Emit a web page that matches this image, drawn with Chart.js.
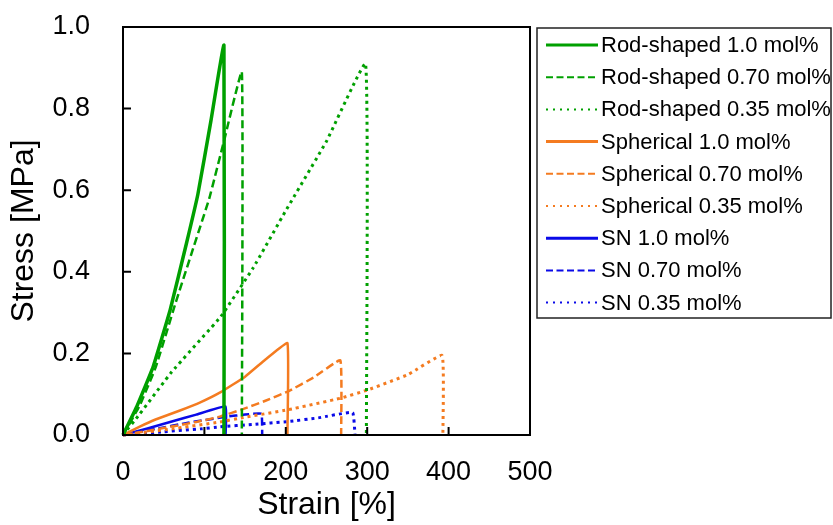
<!DOCTYPE html>
<html>
<head>
<meta charset="utf-8">
<script src="https://cdn.jsdelivr.net/npm/chart.js@4.4.1/dist/chart.umd.min.js"></script>
<style>
  html, body { margin: 0; padding: 0; background: #fff; }
  #wrap { width: 833px; height: 525px; }
</style>
</head>
<body>
<div id="wrap"><canvas id="stressChart"></canvas></div>
<script>
// stress-strain curves, strain in %, stress in MPa
const rod10Strain = [0, 17, 37, 58, 78, 92, 108, 124, 124]
const rod10Stress = [0, 0.07, 0.167, 0.307, 0.47, 0.59, 0.77, 0.955, 0]
const rod07Strain = [0, 20, 40, 64, 85, 106, 124, 146, 146]
const rod07Stress = [0, 0.07, 0.165, 0.32, 0.45, 0.58, 0.72, 0.89, 0]
const rod035Strain = [0, 20, 60, 120, 160, 200, 250, 298, 299]
const rod035Stress = [0, 0.05, 0.155, 0.29, 0.41, 0.55, 0.72, 0.91, 0]

const sph10Strain = [0, 20, 40, 70, 95, 120, 150, 175, 202, 202]
const sph10Stress = [0, 0.02, 0.038, 0.06, 0.08, 0.105, 0.143, 0.185, 0.225, 0]
const sph07Strain = [0, 30, 58, 90, 119, 148, 175, 203, 235, 267, 268]
const sph07Stress = [0, 0.01, 0.02, 0.032, 0.045, 0.064, 0.084, 0.107, 0.142, 0.183, 0]
const sph035Strain = [0, 60, 119, 148, 203, 267, 300, 350, 392, 393]
const sph035Stress = [0, 0.015, 0.032, 0.043, 0.062, 0.09, 0.11, 0.148, 0.195, 0]

const sn10Strain = [0, 30, 60, 90, 126, 126]
const sn10Stress = [0, 0.016, 0.033, 0.05, 0.07, 0]
const sn07Strain = [0, 40, 80, 127, 150, 170, 171]
const sn07Stress = [0, 0.015, 0.03, 0.045, 0.05, 0.052, 0]
const sn035Strain = [0, 50, 95, 119, 160, 203, 240, 282, 285]
const sn035Stress = [0, 0.008, 0.015, 0.02, 0.026, 0.033, 0.042, 0.055, 0]

const seriesNames = [
  'Rod-shaped 1.0 mol%', 'Rod-shaped 0.70 mol%', 'Rod-shaped 0.35 mol%',
  'Spherical 1.0 mol%', 'Spherical 0.70 mol%', 'Spherical 0.35 mol%',
  'SN 1.0 mol%', 'SN 0.70 mol%', 'SN 0.35 mol%'
]

const green = '#00a000'
const orange = '#f47b20'
const blue = '#0a0ae8'
const solid = []
const dashed = [8, 4]
const dotted = [3, 4]

const curves = [
  [rod10Strain, rod10Stress, green, solid, 3.5],
  [rod07Strain, rod07Stress, green, dashed, 2.5],
  [rod035Strain, rod035Stress, green, dotted, 3],
  [sph10Strain, sph10Stress, orange, solid, 2.5],
  [sph07Strain, sph07Stress, orange, dashed, 2.5],
  [sph035Strain, sph035Stress, orange, dotted, 3],
  [sn10Strain, sn10Stress, blue, solid, 2.5],
  [sn07Strain, sn07Stress, blue, dashed, 2.5],
  [sn035Strain, sn035Stress, blue, dotted, 3]
]

const datasets = curves.map(([xs, ys, color, dash, width], i) => ({
  label: seriesNames[i],
  data: xs.map((x, k) => ({ x: x, y: ys[k] })),
  showLine: true,
  borderColor: color,
  backgroundColor: color,
  borderDash: dash,
  borderWidth: width,
  pointRadius: 0,
  tension: 0.1,
  clip: false
}))

// box around the plot, inward tick marks and the boxed legend on the right
const frameAndLegend = {
  id: 'frameAndLegend',
  afterDatasetsDraw(chart) {
    const { ctx, chartArea: a, scales } = chart
    ctx.save()
    ctx.strokeStyle = '#000'
    ctx.lineWidth = 2
    ctx.setLineDash([])
    ctx.strokeRect(a.left, a.top, a.right - a.left, a.bottom - a.top)
    ctx.beginPath()
    scales.x.ticks.forEach(t => {
      const px = scales.x.getPixelForValue(t.value)
      ctx.moveTo(px, a.bottom)
      ctx.lineTo(px, a.bottom - 8)
    })
    scales.y.ticks.forEach(t => {
      const py = scales.y.getPixelForValue(t.value)
      ctx.moveTo(a.left, py)
      ctx.lineTo(a.left + 8, py)
    })
    ctx.stroke()

    const bx = a.right + 7
    const by = a.top + 1
    ctx.lineWidth = 1.5
    ctx.strokeStyle = '#222'
    ctx.strokeRect(bx, by, 294, 290)
    ctx.font = '22px "Liberation Sans", Arial, sans-serif'
    ctx.textBaseline = 'middle'
    ctx.fillStyle = '#000'
    chart.data.datasets.forEach((ds, i) => {
      const ry = by + 17 + i * 32.2
      ctx.beginPath()
      ctx.strokeStyle = ds.borderColor
      ctx.lineWidth = ds.borderDash.length ? 2 : 3
      ctx.setLineDash(ds.borderDash.length ? (ds.borderDash === dashed ? [7, 3.5] : [2, 5]) : [])
      ctx.moveTo(bx + 9, ry)
      ctx.lineTo(bx + 61, ry)
      ctx.stroke()
      ctx.fillText(ds.label, bx + 64, ry + 1)
    })
    ctx.restore()
  }
}

const tickFont = { family: '"Liberation Sans", Arial, sans-serif', size: 27 }
const titleFont = { family: '"Liberation Sans", Arial, sans-serif', size: 32 }

new Chart(document.querySelector('#stressChart'), {
  type: 'scatter',
  data: { datasets: datasets },
  options: {
    responsive: true,
    maintainAspectRatio: false,
    animation: false,
    layout: { padding: { top: 27, right: 303, bottom: 0, left: 0 } },
    plugins: {
      legend: { display: false },
      tooltip: { enabled: false }
    },
    scales: {
      x: {
        type: 'linear',
        min: 0,
        max: 500,
        ticks: { stepSize: 100, color: '#000', font: tickFont, padding: 13, maxRotation: 0 },
        grid: { display: false },
        border: { display: false },
        title: { display: true, text: 'Strain [%]', color: '#000', font: titleFont, padding: { top: 0, bottom: 1 } },
        afterFit: s => { s.height = 90 }
      },
      y: {
        min: 0,
        max: 1,
        ticks: { stepSize: 0.2, color: '#000', font: tickFont, padding: 25, callback: v => v.toFixed(1) },
        grid: { display: false },
        border: { display: false },
        title: { display: true, text: 'Stress [MPa]', color: '#000', font: titleFont, padding: { top: 5, bottom: 0 } },
        afterFit: s => {
          s.width = 123
          s.paddingTop = 0
          s.paddingBottom = 0
        }
      }
    }
  },
  plugins: [frameAndLegend]
})
</script>
</body>
</html>
